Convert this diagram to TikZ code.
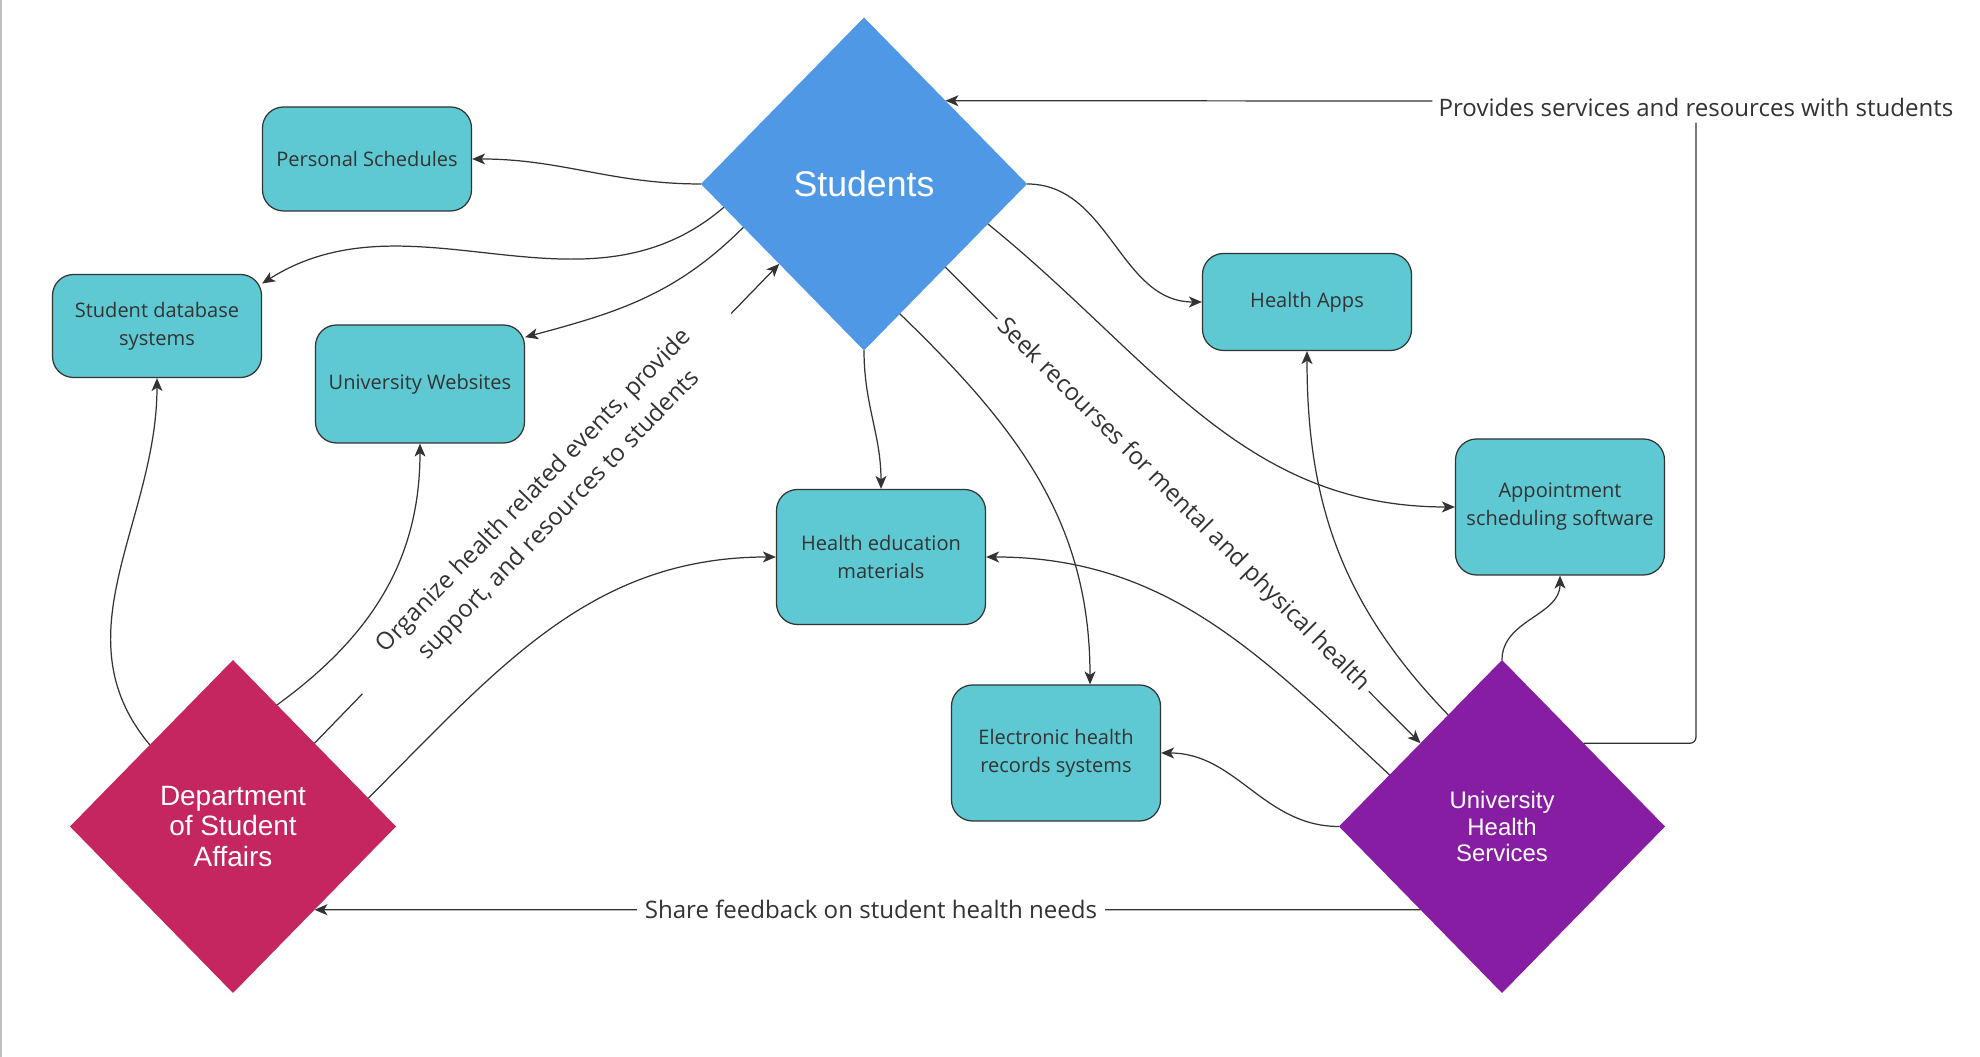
\documentclass[tikz,border=0pt]{standalone}
\usepackage{fontspec}
\setmainfont{Open Sans}
\newfontfamily\hubfont{Liberation Sans}
\usetikzlibrary{shapes.geometric, arrows.meta, calc}

\definecolor{stublue}{HTML}{4F98E6}
\definecolor{dsared}{HTML}{C62660}
\definecolor{uhspurple}{HTML}{861DA2}
\definecolor{boxteal}{HTML}{5EC9D2}
\definecolor{linegray}{HTML}{333333}

\begin{document}
\begin{tikzpicture}[
        box/.style={draw=linegray, line width=0.7pt, fill=boxteal, rounded corners=0.42cm,
            minimum width=4.18cm, align=center, text=black!80, font=\fontsize{11.4}{15.9}\selectfont},
        hub/.style={diamond, minimum width=6.52cm, minimum height=6.66cm, inner sep=0pt,
            outer sep=0pt, text=white, align=center},
        conn/.style={draw=linegray, line width=0.7pt},
        arr/.style={conn, -{Stealth[length=0.26cm, width=0.22cm, inset=0.07cm]}},
        elabel/.style={fill=white, text=black!80, inner sep=0.15cm, align=center,
            font=\fontsize{13.7}{19.7}\selectfont}
    ]
        \useasboundingbox (0,0) rectangle (39.6,21.14);
        \draw[gray!50, line width=0.04cm] (0.02,0) -- (0.02,21.14);

        % ================= Actors =================
        \node[hub, fill=stublue, font=\hubfont\fontsize{20.3}{24}\selectfont] (stu) at (17.28,17.46) {Students};
        \node[hub, fill=dsared, font=\hubfont\fontsize{15.9}{17.6}\selectfont] (dsa) at (4.66,4.61) {Department\\of Student\\Affairs};
        \node[hub, fill=uhspurple, font=\hubfont\fontsize{13.6}{15.2}\selectfont] (uhs) at (30.04,4.61) {University\\Health\\Services};

        % ================= Resources =================
        \node[box, minimum height=2.08cm] (ps) at (7.34,17.96) {Personal Schedules};
        \node[box, minimum height=2.06cm] (sds) at (3.14,14.62) {Student database\\systems};
        \node[box, minimum height=2.36cm] (uw) at (8.40,13.46) {University Websites};
        \node[box, minimum height=2.70cm] (hem) at (17.62,10.00) {Health education\\materials};
        \node[box, minimum height=2.72cm] (ehr) at (21.12,6.08) {Electronic health\\records systems};
        \node[box, minimum height=1.94cm] (ha) at (26.14,15.10) {Health Apps};
        \node[box, minimum height=2.72cm] (ass) at (31.20,11.00) {Appointment\\scheduling software};

        % ================= Labelled flows =================
        % 1. Department -> Students
        \draw[arr] ($(dsa.north)!0.5!(dsa.east)$) -- node[elabel, sloped, inner xsep=0.9cm, inner ysep=0.1cm]
            {Organize health related events, provide\\support, and resources to students} ($(stu.west)!0.48!(stu.south)$);

        % 2. Students -> Health Services
        \draw[arr] ($(stu.south)!0.5!(stu.east)$) -- node[elabel, sloped, inner sep=0.1cm]
            {Seek recourses for mental and physical health} ($(uhs.west)!0.5!(uhs.north)$);

        % 3. Health Services -> Department
        \node[elabel] (share) at (17.42,2.945) {Share feedback on student health needs};
        \draw[conn] ($(uhs.west)!0.5!(uhs.south)$) -- (share.east);
        \draw[arr] (share.west) -- ($(dsa.east)!0.5!(dsa.south)$);

        % 4. Health Services -> Students
        \node[elabel, inner sep=0.12cm] (prov) at (33.92,19.0) {Provides services and resources with students};
        \draw[conn, rounded corners=0.12cm] ($(uhs.north)!0.5!(uhs.east)$) -| (prov.south);
        \draw[arr] ([yshift=0.12cm]prov.west) -- ($(stu.north)!0.5!(stu.east)$);

        % ================= Students use =================
        \draw[arr] (stu.west) to[out=180, in=0] (ps.east);
        \draw[arr] ($(stu.west)!0.14!(stu.south)$) .. controls +(-2.8,-2.4) and +(3.0,1.9) .. (sds.22);
        \draw[arr] ($(stu.west)!0.26!(stu.south)$) to[out=225, in=15] (uw.24);
        \draw[arr] (stu.south) to[out=270, in=90] (hem.north);
        \draw[arr] ($(stu.south)!0.22!(stu.east)$) to[out=-44, in=90] ([xshift=0.68cm]ehr.north);
        \draw[arr] (stu.east) to[out=0, in=180] (ha.west);
        \draw[arr] ($(stu.south)!0.76!(stu.east)$) to[out=-39, in=180] (ass.west);

        % ================= Department uses =================
        \draw[arr] ($(dsa.west)!0.49!(dsa.north)$) to[out=130, in=270] (sds.south);
        \draw[arr] ($(dsa.north)!0.27!(dsa.east)$) to[out=36, in=270] (uw.south);
        \draw[arr] ($(dsa.north)!0.83!(dsa.east)$) to[out=45, in=180] (hem.west);

        % ================= Health Services use =================
        \draw[arr] ($(uhs.west)!0.67!(uhs.north)$) to[out=134, in=270] (ha.south);
        \draw[arr] ($(uhs.west)!0.31!(uhs.north)$) to[out=137, in=0] (hem.east);
        \draw[arr] (uhs.west) to[out=180, in=0] (ehr.east);
        \draw[arr] (uhs.north) to[out=90, in=270] (ass.south);

    \end{tikzpicture}
\end{document}
